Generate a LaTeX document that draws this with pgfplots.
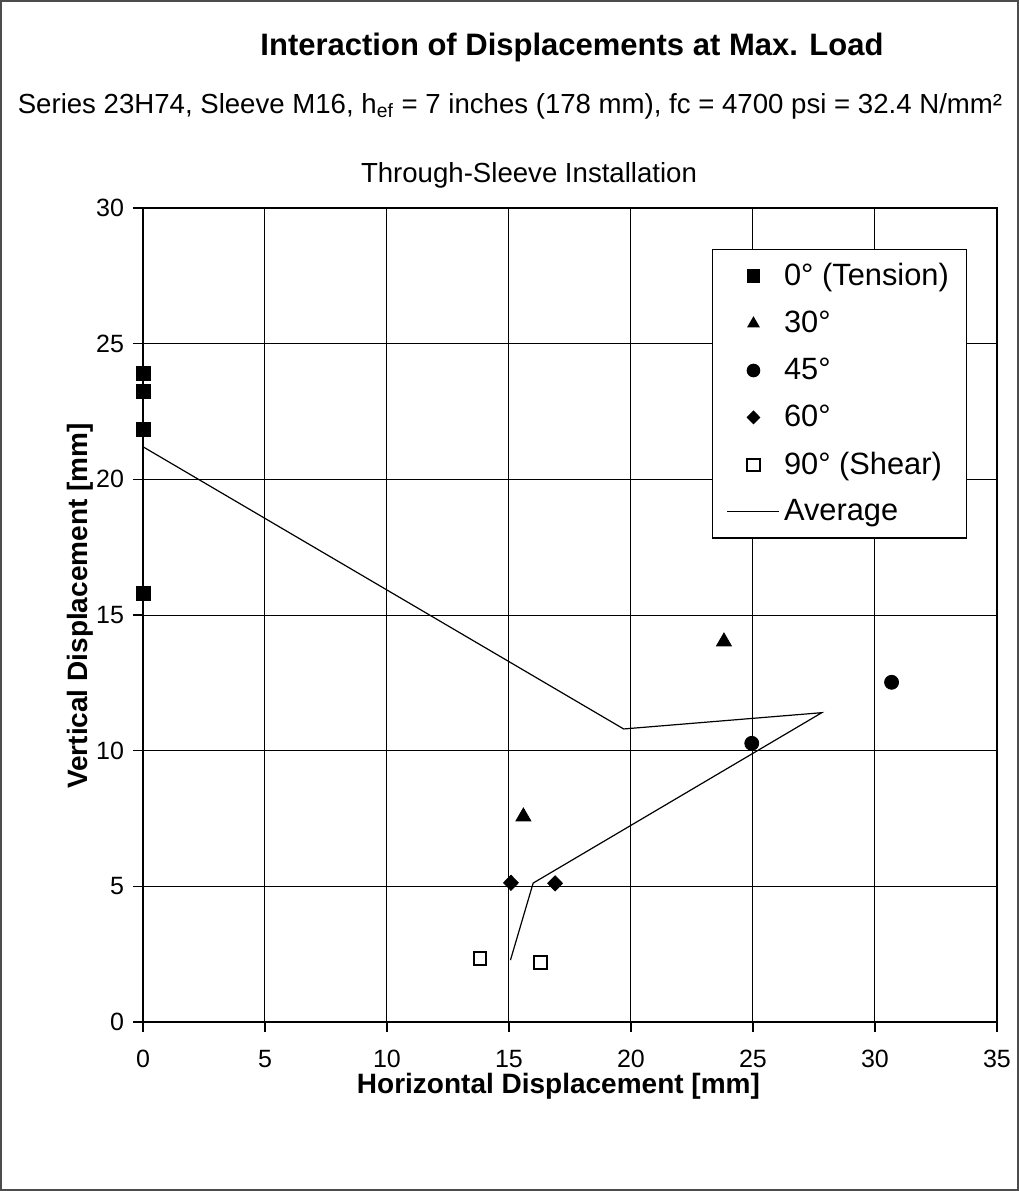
\documentclass[border=0pt]{standalone}
\usepackage{pgfplots}
\pgfplotsset{compat=1.18}
\usepackage{fontspec}
\setmainfont{Liberation Sans}
\begin{document}
\begin{tikzpicture}
\useasboundingbox (0pt,0pt) rectangle (509.5pt,595.5pt);
\draw[black!70, line width=0.6pt] (0.5pt,0.5pt) rectangle (509pt,595pt);
\node[font=\fontsize{15.5}{18}\selectfont\bfseries] at (286pt,572pt) {Interaction of Displacements at Max. Load};
\node[font=\fontsize{13.8}{16}\selectfont] at (255pt,542.5pt) {Series 23H74, Sleeve M16, h\textsubscript{ef} = 7 inches (178 mm), fc = 4700 psi = 32.4 N/mm²};
\node[font=\fontsize{13.8}{16}\selectfont] at (264.5pt,508pt) {Through-Sleeve Installation};
\begin{axis}[
  at={(71.5pt,84.5pt)}, anchor=south west,
  scale only axis, width=427pt, height=407pt,
  xmin=0, xmax=35, ymin=0, ymax=30,
  xtick={0,5,...,35}, ytick={0,5,...,30},
  tick pos=left,
  grid=major, grid style={black, line width=0.5pt},
  axis line style={black, line width=0.7pt},
  tick align=outside, major tick length=5pt,
  tick style={black, line width=0.6pt},
  /pgf/number format/assume math mode=true,
  ticklabel style={font=\fontsize{12.5}{14}\selectfont},
  xticklabel style={inner ysep=1pt, yshift=-8pt},
  yticklabel style={xshift=-1pt},
  xlabel={Horizontal Displacement [mm]},
  ylabel={Vertical Displacement [mm]},
  label style={font=\fontsize{14}{16}\selectfont\bfseries},
  xlabel style={at={(axis description cs:0.4865,-0.0795)}, anchor=center, inner ysep=1pt},
  ylabel style={at={(axis description cs:-0.0738,0.511)}, anchor=center},
  clip=false,
  legend style={at={(rel axis cs:0.9653,0.9496)}, anchor=north east,
    font=\fontsize{15.4}{18}\selectfont, draw=black, line width=0.6pt,
    row sep=7.2pt, inner xsep=7pt, inner ysep=5pt, cells={anchor=west}},
  legend image code/.code={\draw[mark repeat=2,mark phase=2,#1,mark size=3.1pt] plot coordinates {(0pt,0pt)(13pt,0pt)(26pt,0pt)};},
]
\addplot[only marks, mark=square*, mark size=3.5pt, black] coordinates {
 (0,23.91) (0,23.23) (0,21.85) (0,15.80)};
\addlegendentry{0° (Tension)}
\addplot[only marks, mark=triangle*, mark size=4.3pt, black] coordinates {
 (15.59,7.57) (23.81,14.02)};
\addlegendentry{30°}
\addplot[only marks, mark=*, mark size=3.5pt, black] coordinates {
 (24.95,10.27) (30.68,12.52)};
\addlegendentry{45°}
\addplot[only marks, mark=diamond*, mark size=3.8pt, black, mark options={xscale=1.3}] coordinates {
 (15.08,5.13) (16.89,5.11)};
\addlegendentry{60°}
\addplot[only marks, mark=square, mark size=3.2pt, black, mark options={line width=1pt, fill=white}] coordinates {
 (13.81,2.35) (16.30,2.20)};
\addlegendentry{90° (Shear)}
\addplot[black, line width=0.6pt, mark=none] coordinates {
 (0,21.20) (19.70,10.80) (27.82,11.40) (15.99,5.12) (15.06,2.28)};
\addlegendentry{Average}
\end{axis}
\end{tikzpicture}
\end{document}
